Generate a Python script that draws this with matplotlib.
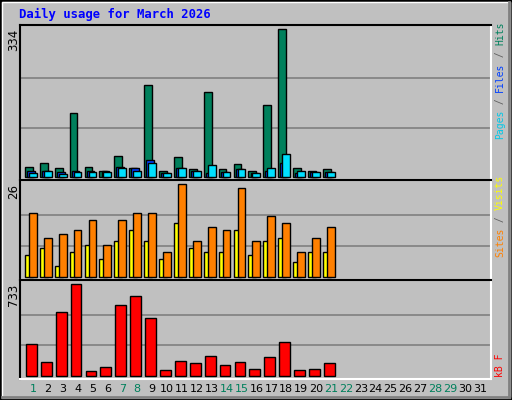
import matplotlib
matplotlib.use("Agg")
import matplotlib.pyplot as plt
from matplotlib.patches import Rectangle
import numpy as np

days = list(range(1, 32))
hits  = [21,32,19,144,23,14,46,19,207,12,44,17,193,17,28,12,162,334,19,12,17]
files = [14,12,10,12,14,12,21,19,37,8,19,12,8,10,17,8,12,30,8,10,10]
pages = [8,12,5,10,10,10,19,14,30,8,19,12,26,10,17,8,19,51,14,10,10]
visits_big = [18,11,12,13,16,9,16,18,18,7,26,10,14,13,25,10,17,15,7,11,14]   # orange
sites_small = [6,8,3,7,9,5,10,13,10,5,15,8,7,7,13,6,10,11,4,7,7]            # yellow
kbytes = [251,107,508,733,35,67,564,637,460,43,115,99,155,83,107,51,147,268,43,51,99]
weekend = [1,7,8,14,15,21,22,28,29]

W, H = 512, 400
fig = plt.figure(figsize=(5.12, 4.0), dpi=100)
fig.patch.set_facecolor("#C0C0C0")

def fx(px): return px / W
def fy(py): return 1 - py / H

fig.add_artist(Rectangle((0, 0), 1, 1, transform=fig.transFigure, fill=False, ec="black", lw=2))
fig.add_artist(Rectangle((fx(2), fy(397)), fx(508), 395/H, transform=fig.transFigure, fill=False, ec="white", lw=1))
fig.add_artist(plt.Line2D([fx(2), fx(509)], [fy(397), fy(397)], transform=fig.transFigure, color="#808080", lw=2))
fig.add_artist(plt.Line2D([fx(509), fx(509)], [fy(2), fy(397)], transform=fig.transFigure, color="#808080", lw=2))

fig.text(fx(19), fy(14), "Daily usage for March 2026", family="DejaVu Sans Mono",
         weight="bold", color="#0000FF", fontsize=8.8, va="center", ha="left")

X0, X1 = 20, 491
xlo = 1 + (X0 - 33) / 14.9
xhi = 1 + (X1 - 33) / 14.9

def make_ax(top, bot, vmax):
    ax = fig.add_axes([fx(X0), fy(bot), fx(X1 - X0), (bot - top) / H])
    ax.set_facecolor("#C0C0C0")
    h = bot - top
    scale = (h - 7.6) / vmax
    ax.set_ylim(-3.3 / scale, vmax + 4.3 / scale)
    ax.set_xlim(xlo, xhi)
    ax.set_xticks([]); ax.set_yticks([])
    for g in (vmax / 3, 2 * vmax / 3):
        ax.axhline(g, color="#808080", lw=1.2, zorder=0)
    ax.spines["top"].set_color("black"); ax.spines["left"].set_color("black")
    ax.spines["bottom"].set_color("white"); ax.spines["right"].set_color("white")
    for s in ax.spines.values(): s.set_linewidth(1.5)
    fig.text(fx(14), fy(top + 4), str(vmax), rotation=90, ha="center", va="top",
             fontsize=8.5, color="black")
    return ax

n = len(hits)
d = np.arange(1, n + 1)
bw = 0.52
kw = dict(align="edge", edgecolor="black", linewidth=1)

ax1 = make_ax(25, 180, max(hits))
ax1.bar(d - 0.54, hits, bw, color="#00805C", zorder=2, **kw)
ax1.bar(d - 0.40, files, bw, color="#0040FF", zorder=3, **kw)
ax1.bar(d - 0.27, pages, bw, color="#00E0FF", zorder=4, **kw)

ax2 = make_ax(180, 280, max(visits_big))
ax2.bar(d - 0.54, sites_small, bw, color="#FFFF00", zorder=2, **kw)
ax2.bar(d - 0.27, visits_big, bw, color="#FF8000", zorder=3, **kw)

ax3 = make_ax(280, 379, max(kbytes))
ax3.bar(d - 0.47, kbytes, 0.72, color="#FF0000", zorder=2, **kw)

for day in days:
    fig.text(fx(33 + (day - 1) * 14.9), fy(389), str(day), ha="center", va="center",
             fontsize=8, color="#00805C" if day in weekend else "black")

def vlabel(bottom_py, parts, size=7.0):
    cw = 0.602 * size * 100 / 72
    y = bottom_py
    for txt, col in parts:
        fig.text(fx(500), fy(y), txt, rotation=90, ha="center", va="bottom",
                 family="DejaVu Sans Mono", fontsize=size, color=col)
        y -= cw * len(txt)

vlabel(139, [("Pages", "#00C8E8"), (" / ", "#606060"), ("Files", "#0040FF"),
             (" / ", "#606060"), ("Hits", "#00805C")])
vlabel(257, [("Sites", "#FF8000"), (" / ", "#606060"), ("Visits", "#FFFF00")])
vlabel(377, [("kB F", "#FF0000")])

fig.savefig("out.png", dpi=100, facecolor=fig.get_facecolor())
